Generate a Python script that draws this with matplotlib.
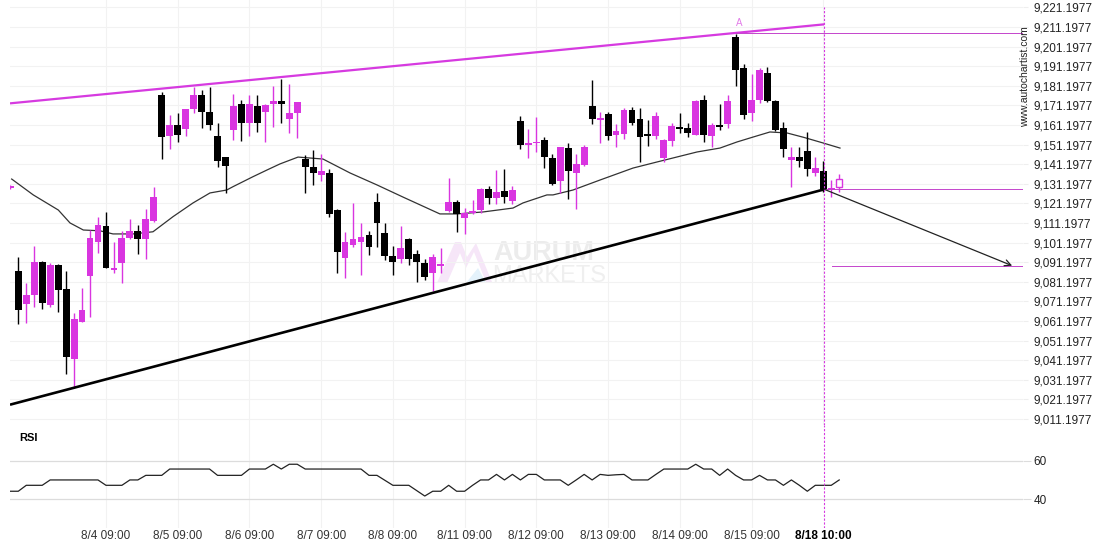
import numpy as np
import matplotlib
matplotlib.use('Agg')
import matplotlib.pyplot as plt
from matplotlib.patches import Polygon

plt.rcParams['font.family'] = ['Liberation Sans', 'DejaVu Sans']

PINK = '#d935e0'
LINE_PINK = '#d63ae0'
THIN_PINK = '#c445cc'

# hourly candles, bar -1 is the half cut one at the left edge, bar 103 is the live one
bar_idx = list(range(-1, 104))
opens = [9129.0, 9086.7, 9070.0, 9074.5, 9091.5, 9069.3, 9090.0, 9077.5, 9041.8, 9060.8,
         9084.1, 9101.6, 9109.6, 9087.2, 9090.9, 9103.7, 9106.9, 9102.9, 9112.3, 9176.5,
         9155.7, 9161.2, 9159.1, 9169.3, 9176.5, 9167.9, 9155.6, 9144.8, 9158.6, 9171.8,
         9162.3, 9170.9, 9167.9, 9172.0, 9173.4, 9164.4, 9167.4, 9143.8, 9139.9, 9135.7,
         9136.5, 9117.8, 9093.5, 9100.0, 9101.6, 9105.1, 9121.7, 9105.9, 9094.3, 9092.7,
         9103.2, 9095.4, 9090.6, 9085.5, 9089.4, 9117.4, 9122.0, 9113.9, 9116.1, 9117.8,
         9128.5, 9124.1, 9127.5, 9122.5, 9163.2, 9151.0, 9151.8, 9153.5, 9144.2, 9132.8,
         9149.3, 9136.5, 9140.9, 9170.9, 9163.9, 9166.6, 9156.1, 9156.6, 9168.8, 9164.2,
         9156.6, 9155.6, 9144.5, 9153.2, 9160.3, 9159.8, 9156.1, 9173.9, 9155.6, 9161.2,
         9161.7, 9206.2, 9190.1, 9167.4, 9173.9, 9187.5, 9173.4, 9159.8, 9143.3, 9145.0,
         9147.9, 9136.8, 9137.7, 9128.0, 9129.4]
highs = [9130.6, 9094.0, 9080.4, 9099.4, 9091.8, 9090.8, 9090.3, 9086.8, 9065.1, 9078.2,
         9107.6, 9114.1, 9116.9, 9101.6, 9107.3, 9113.1, 9110.3, 9118.2, 9129.4, 9178.1,
         9166.3, 9167.4, 9169.3, 9180.7, 9179.0, 9180.4, 9162.0, 9145.0, 9177.0, 9173.9,
         9176.5, 9176.5, 9171.8, 9181.1, 9184.6, 9182.1, 9173.0, 9145.9, 9148.4, 9146.2,
         9138.6, 9118.2, 9106.7, 9121.5, 9111.3, 9107.3, 9126.6, 9111.0, 9099.6, 9109.6,
         9103.4, 9097.4, 9092.8, 9095.4, 9098.3, 9134.0, 9122.9, 9118.7, 9122.9, 9128.9,
         9130.2, 9138.2, 9138.6, 9130.2, 9165.8, 9159.0, 9165.1, 9154.9, 9146.4, 9150.1,
         9152.1, 9146.4, 9151.0, 9184.1, 9167.6, 9167.6, 9161.7, 9169.7, 9170.5, 9169.7,
         9163.7, 9167.9, 9154.0, 9162.3, 9167.1, 9162.0, 9173.9, 9176.3, 9162.0, 9171.7,
         9176.5, 9207.6, 9192.1, 9187.2, 9190.4, 9190.6, 9173.9, 9162.8, 9150.1, 9150.1,
         9157.4, 9145.0, 9143.0, 9133.1, 9136.0]
lows = [9128.5, 9059.5, 9060.0, 9068.2, 9067.2, 9068.5, 9065.6, 9034.0, 9026.9, 9060.6,
        9063.4, 9095.7, 9088.1, 9085.5, 9080.4, 9102.9, 9095.2, 9092.7, 9111.5, 9143.7,
        9148.8, 9152.6, 9155.6, 9167.1, 9159.8, 9158.6, 9139.9, 9126.6, 9153.5, 9153.2,
        9155.6, 9157.7, 9152.6, 9160.3, 9162.3, 9157.2, 9154.4, 9126.3, 9130.6, 9132.6,
        9114.4, 9085.5, 9083.0, 9099.1, 9084.7, 9094.9, 9098.8, 9092.3, 9084.7, 9090.6,
        9089.8, 9081.2, 9082.1, 9076.6, 9085.5, 9116.9, 9106.7, 9105.6, 9115.8, 9116.1,
        9120.9, 9120.7, 9121.2, 9120.9, 9148.8, 9144.2, 9147.5, 9139.1, 9130.6, 9126.6,
        9123.3, 9118.2, 9140.4, 9161.7, 9151.8, 9153.5, 9150.1, 9153.9, 9161.2, 9142.4,
        9150.6, 9153.9, 9142.1, 9150.6, 9156.9, 9155.2, 9156.0, 9152.6, 9149.8, 9158.6,
        9159.5, 9181.1, 9164.1, 9163.3, 9172.2, 9173.0, 9158.3, 9145.0, 9129.7, 9139.9,
        9135.2, 9135.2, 9127.1, 9124.3, 9127.1]
closes = [9130.0, 9067.0, 9074.5, 9091.3, 9070.5, 9089.8, 9077.2, 9043.0, 9062.2, 9066.8,
          9103.4, 9110.2, 9088.4, 9088.2, 9103.4, 9106.9, 9102.9, 9113.1, 9124.4, 9155.2,
          9161.2, 9156.2, 9169.2, 9176.5, 9167.9, 9161.2, 9143.0, 9140.3, 9170.9, 9162.3,
          9171.8, 9162.3, 9171.4, 9173.4, 9172.0, 9167.4, 9172.8, 9139.9, 9136.8, 9137.7,
          9115.8, 9096.5, 9101.3, 9103.0, 9103.9, 9099.1, 9111.0, 9094.5, 9091.4, 9098.3,
          9092.7, 9091.1, 9083.8, 9093.7, 9089.9, 9121.7, 9115.6, 9116.1, 9117.3, 9128.5,
          9124.1, 9126.8, 9124.6, 9128.0, 9151.0, 9151.5, 9152.1, 9145.0, 9130.9, 9149.9,
          9137.9, 9141.3, 9150.1, 9164.1, 9164.4, 9155.7, 9158.1, 9168.8, 9162.3, 9155.2,
          9155.7, 9165.8, 9153.5, 9160.6, 9159.1, 9157.2, 9173.5, 9156.1, 9161.2, 9160.1,
          9173.5, 9189.2, 9166.3, 9173.9, 9189.2, 9173.5, 9158.6, 9149.1, 9144.7, 9142.9,
          9138.6, 9139.1, 9128.4, 9128.9, 9133.5]

# RSI, one value per bar
rsi = [44.2, 44.2, 47.3, 47.3, 47.3, 50.1, 50.1, 50.1, 50.1, 50.1,
       50.1, 50.1, 47.3, 47.3, 47.3, 50.1, 50.1, 52.5, 52.5, 52.5,
       55.8, 55.8, 55.8, 55.8, 55.8, 55.8, 52.5, 52.5, 52.5, 52.5,
       55.8, 55.8, 55.8, 58.3, 55.8, 58.3, 58.3, 55.8, 55.8, 55.8,
       55.8, 55.8, 55.8, 55.8, 55.8, 52.5, 52.5, 49.9, 47.3, 47.3,
       47.3, 44.5, 41.7, 44.2, 44.2, 47.3, 44.2, 44.2, 47.3, 50.1,
       50.1, 53.0, 50.1, 53.0, 50.1, 53.0, 53.0, 50.1, 50.1, 50.1,
       47.3, 50.1, 53.0, 50.1, 53.0, 52.5, 52.8, 53.0, 50.1, 50.1,
       50.1, 53.0, 55.8, 55.8, 55.8, 55.8, 58.3, 55.8, 55.8, 52.5,
       55.8, 52.5, 50.1, 50.1, 52.5, 50.1, 50.1, 47.3, 50.1, 47.3,
       44.2, 47.3, 47.3, 47.3, 50.1]

# moving average (bar position, price)
ma_x = [-0.83, 1.88, 5.02, 6.49, 8.16, 10.25, 11.88, 14.39, 16.9, 19.41, 21.92, 24.05,
        26.15, 26.94, 29.45, 31.2, 32.83, 35.1, 38.23, 41.62, 45.0, 48.27, 52.9, 55.04,
        58.3, 62.07, 63.32, 66.33, 67.09, 69.6, 72.99, 77.13, 80.14, 85.16, 88.04, 90.17,
        92.18, 94.31, 96.45, 98.6, 100.97, 103.1]
ma_v = [9133.6, 9125.5, 9117.8, 9111.2, 9107.6, 9107.2, 9105.6, 9105.6, 9106.7, 9114.4,
        9121.4, 9126.5, 9128.0, 9129.7, 9134.8, 9138.2, 9141.3, 9144.8, 9143.8, 9136.7,
        9130.6, 9124.4, 9115.8, 9115.8, 9116.8, 9118.8, 9121.4, 9125.5, 9125.5, 9128.0,
        9133.1, 9139.2, 9142.3, 9147.4, 9149.4, 9152.5, 9155.0, 9157.6, 9157.1, 9154.8,
        9152.0, 9149.4]

# pattern lines
res_x = [-1.04, 101.1]
res_y = [9172.2, 9212.5]
sup_x = [-1.04, 101.1]
sup_y = [9018.5, 9128.3]
peak_level = 9207.9
peak_x = 90.1
break_level = 9128.4
break_x = 101.1
target_level = 9089.4
target_x = 124.7
target_line_start = 102.1

day_pos = [11, 20, 29, 38, 47, 56, 65, 74, 83, 92, 101]
day_labels = ['8/4 09:00', '8/5 09:00', '8/6 09:00', '8/7 09:00', '8/8 09:00', '8/11 09:00',
              '8/12 09:00', '8/13 09:00', '8/14 09:00', '8/15 09:00', '8/18 10:00']

price_ticks = [9011.1977 + 10 * k for k in range(22)]

W, H = 1110, 550
fig = plt.figure(figsize=(W / 100, H / 100), dpi=100)
ax = fig.add_axes([10 / W, 1 - 425 / H, 1013 / W, 425 / H])
ax_rsi = fig.add_axes([10 / W, 1 - 528 / H, 1013 / W, 103 / H], sharex=ax)
for a in (ax, ax_rsi):
    a.set_facecolor('none')
    for s in a.spines.values():
        s.set_visible(False)

xmin, xmax = -1.04, 126.06
ax.set_xlim(xmin, xmax)
ax.set_ylim(9008.14, 9224.92)
ax_rsi.set_ylim(25.0, 78.8)

# grid
ax.set_yticks(price_ticks)
ax.set_yticklabels(['{:,.4f}'.format(p) for p in price_ticks])
ax.yaxis.tick_right()
ax.tick_params(axis='y', length=3.6, pad=3.6, color='#eeeeee', labelsize=8.5, labelcolor='#222222')
ax.set_xticks(day_pos[:-1])
ax.tick_params(axis='x', length=0, labelbottom=False)
ax.grid(True, color='#f2f2f2', lw=0.8, zorder=0)

ax_rsi.set_yticks([40, 60])
ax_rsi.yaxis.tick_right()
ax_rsi.tick_params(axis='y', length=5.5, pad=2, color='#dcdcdc', labelsize=8.5, labelcolor='#222222')
ax_rsi.grid(True, axis='y', color='#dcdcdc', lw=0.9)
ax_rsi.set_xticks(day_pos)
ax_rsi.set_xticklabels(day_labels)
ax_rsi.tick_params(axis='x', length=0, pad=1.5, labelsize=8.5, labelcolor='#333333')
for pos in day_pos[:-1]:
    ax_rsi.axvline(pos, color='#f2f2f2', lw=0.8, zorder=0)
lab = ax_rsi.get_xticklabels()[-1]
lab.set_fontweight('bold')
lab.set_color('black')

# watermark
tf = fig.transFigure
def px(x, y):
    return (x / W, 1 - y / H)
logo_pink = [px(437, 283), px(447, 283), px(460, 253), px(466, 268), px(474, 252),
             px(486, 282), px(492, 282), px(476, 243), px(467, 257), px(461, 242), px(455, 242)]
logo_blue = [px(466, 283), px(486, 283), px(478, 268)]
ax.add_patch(Polygon(logo_pink, closed=True, transform=tf, color='#f6e6f8', lw=0, zorder=0.5))
ax.add_patch(Polygon(logo_blue, closed=True, transform=tf, color='#e4f2fb', lw=0, zorder=0.6))
ax.text(493 / W, 1 - 253 / H, 'AURUM', transform=tf, fontsize=19.5, fontweight='bold',
        color='#ececec', va='center', ha='left', zorder=0.5)
ax.text(492 / W, 1 - 276 / H, 'MARKETS', transform=tf, fontsize=17, color='#efefef',
        va='center', ha='left', zorder=0.5)

# candles
o = np.array(opens)
h = np.array(highs)
l = np.array(lows)
c = np.array(closes)
xs = np.array(bar_idx)
up = c >= o
cols = np.where(up, PINK, 'black')
live = len(xs) - 1
ax.vlines(xs, l, h, colors=cols, lw=1.0, zorder=3)
bottoms = np.minimum(o, c)
heights = np.maximum(np.abs(c - o), 0.9)
ax.bar(xs[:live], heights[:live], bottom=bottoms[:live], width=0.86, color=cols[:live],
       lw=0, zorder=4)
ax.bar(xs[live], heights[live], bottom=bottoms[live], width=0.72, facecolor='white',
       edgecolor=PINK, lw=1.0, zorder=4)

ax.plot(ma_x, ma_v, color='#333333', lw=0.9, zorder=2)

# pattern
ax.plot(res_x, res_y, color=LINE_PINK, lw=1.6, zorder=5, solid_capstyle='butt')
ax.plot(sup_x, sup_y, color='black', lw=1.9, zorder=5, solid_capstyle='butt')
ax.plot([peak_x, xmax], [peak_level, peak_level], color=THIN_PINK, lw=0.7, zorder=5)
ax.plot([break_x, xmax], [break_level, break_level], color=THIN_PINK, lw=0.7, zorder=5)
ax.plot([target_line_start, xmax], [target_level, target_level], color=THIN_PINK, lw=0.7, zorder=5)
ax.annotate('', xy=(target_x, target_level), xytext=(break_x, break_level),
            arrowprops=dict(arrowstyle='->', color='#222222', lw=0.9, shrinkA=0, shrinkB=0,
                            mutation_scale=11), zorder=6)
ax.text(peak_x + 0.3, 9210.6, 'A', color='#e27ce8', fontsize=7, ha='center', va='bottom', zorder=6)

ax.axvline(break_x, ymin=0, ymax=0.984, color=LINE_PINK, lw=0.8, ls=(0, (2, 1.5)), zorder=7)
ax_rsi.axvline(break_x, color=LINE_PINK, lw=0.8, ls=(0, (2, 1.5)), zorder=7)

# RSI
ax_rsi.plot(xs, rsi, color='#222222', lw=0.9, zorder=3)
fig.text(19 / W, 1 - 438 / H, 'RSI', fontsize=8, fontweight='bold', va='center', ha='left')

fig.text(1025 / W, 1 - 77 / H, 'www.autochartist.com', rotation=90, fontsize=7.5,
         color='#222222', ha='center', va='center')

fig.savefig('out.png', dpi=100)
